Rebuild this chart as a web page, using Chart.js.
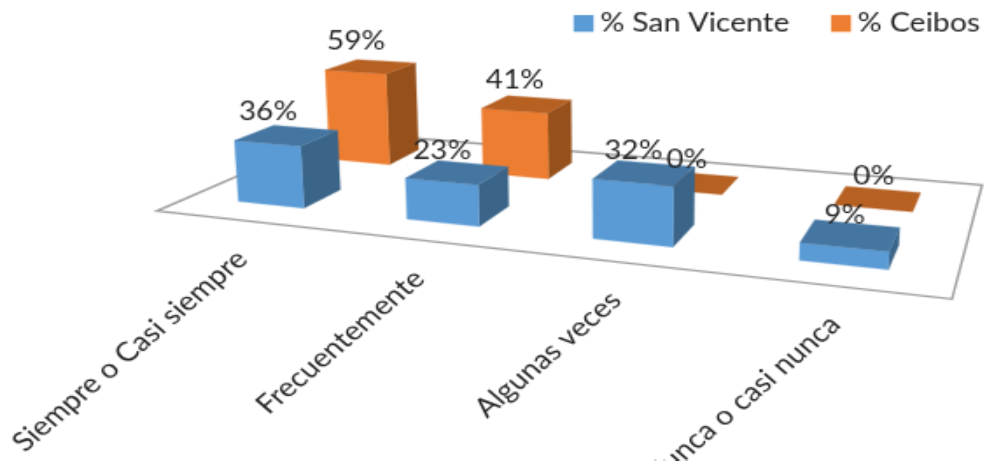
<!DOCTYPE html>
<html>
<head>
<meta charset="utf-8">
<script src="https://cdn.jsdelivr.net/npm/chart.js@4/dist/chart.umd.min.js"></script>
<style>
html,body{margin:0;padding:0;background:#fff;overflow:hidden;width:991px;height:461px}
#wrap{position:absolute;left:0;top:0;width:991px;height:461px;overflow:hidden}
canvas{position:absolute;left:0;top:0;transform-origin:0 0;transform:scale(1.75,1.5)}
</style>
</head>
<body>
<div id="wrap"><canvas id="c" width="566" height="307"></canvas></div>
<script>
const categories = ["Siempre o Casi siempre", "Frecuentemente", "Algunas veces", "Nunca o casi nunca"];
const sanVicente = [36, 23, 32, 9];
const ceibos = [59, 41, 0, 0];
const seriesNames = ["% San Vicente", "% Ceibos"];
const frontColors = ["#5B9BD5", "#ED7D31"];
const topColors = ["#4576A2", "#B66022"];
const sideColors = ["#3A6488", "#96501C"];

const RX = 1.75, RY = 1.5;            // canvas is magnified to the page by these factors
// floor of the 3-D box, page pixels: front-left, front-right, back-right, back-left
const floorQuad = [[157,211],[952,299],[982,185],[339.5,132]].map(p => [p[0]/RX, p[1]/RY]);
const depthCenters = [0.255, 0.76], depthHalf = 0.1;
const LEAN_X = 354, LEAN = 2.55e-4;

const homography = (() => {
  const [[x0,y0],[x1,y1],[x2,y2],[x3,y3]] = floorQuad;
  const dx1=x1-x2, dx2=x3-x2, sx=x0-x1+x2-x3, dy1=y1-y2, dy2=y3-y2, sy=y0-y1+y2-y3;
  const den=dx1*dy2-dx2*dy1;
  const g=(sx*dy2-dx2*sy)/den, h=(dx1*sy-sx*dy1)/den;
  return {a:x1-x0+g*x1,b:x3-x0+h*x3,c:x0,d:y1-y0+g*y1,e:y3-y0+h*y3,f:y0,g,h};
})();
function project(u,v){
  const m=homography, w=m.g*u+m.h*v+1;
  return {x:(m.a*u+m.b*v+m.c)/w, y:(m.d*u+m.e*v+m.f)/w, w};
}
function raise(p,dy){
  const h=dy/p.w;
  return {x:p.x+(p.x-LEAN_X)*h*LEAN, y:p.y-h};
}
function poly(ctx,pts,color){
  ctx.beginPath();
  pts.forEach((p,i)=> i?ctx.lineTo(p.x,p.y):ctx.moveTo(p.x,p.y));
  ctx.closePath();
  ctx.fillStyle=color; ctx.fill();
  ctx.strokeStyle=color; ctx.lineWidth=0.3; ctx.stroke();
}
let current = null;
// every bar element becomes a box standing on the projected floor
Chart.BarElement.prototype.draw = function(ctx){
  const area=current.chart.chartArea, ds=current.index;
  const u=(this.x-area.left)/area.width, hu=this.width/2/area.width;
  const v=depthCenters[ds], dy=this.base-this.y;
  const fl=project(u-hu,v-depthHalf), fr=project(u+hu,v-depthHalf),
        br=project(u+hu,v+depthHalf), bl=project(u-hu,v+depthHalf);
  const tfl=raise(fl,dy), tfr=raise(fr,dy), tbr=raise(br,dy), tbl=raise(bl,dy);
  ctx.save();
  if(dy>0){
    poly(ctx,[fr,br,tbr,tfr],sideColors[ds]);
    poly(ctx,[fl,fr,tfr,tfl],frontColors[ds]);
  }
  poly(ctx,[tfl,tfr,tbr,tbl],topColors[ds]);
  ctx.restore();
};

const scene3d = {
  id:'scene3d',
  afterLayout(chart){
    const lg=chart.legend;
    lg.top-=12; lg.bottom-=12; lg.left+=13; lg.right+=13;
    if(!lg._wrapped){
      lg._wrapped=true;
      const draw=lg.draw.bind(lg), ctx=chart.ctx, rect=ctx.rect;
      lg.draw=function(){   // legend swatches sit closer to their text than the library's gap
        ctx.rect=function(x,y,w,h){ rect.call(ctx,x+4.8,y,w,h); };
        draw();
        delete ctx.rect;
      };
    }
  },
  beforeDatasetsDraw(chart){
    const ctx=chart.ctx;
    ctx.save();
    ctx.beginPath();
    floorQuad.forEach((p,i)=> i?ctx.lineTo(p[0],p[1]):ctx.moveTo(p[0],p[1]));
    ctx.closePath();
    ctx.strokeStyle='#9C9C9C'; ctx.lineWidth=1.4; ctx.lineJoin='miter'; ctx.stroke();
    ctx.restore();
  },
  beforeDatasetDraw(chart,args){ current={chart,index:args.index}; },
  afterDatasetsDraw(chart){
    const ctx=chart.ctx, area=chart.chartArea, xs=chart.scales.x;
    ctx.save();
    ctx.fillStyle='#1E1E1E';
    // value labels
    ctx.font='17px Lato'; ctx.textAlign='center'; ctx.textBaseline='alphabetic';
    [1,0].forEach(ds=>{
      const meta=chart.getDatasetMeta(ds);
      meta.data.forEach((el,i)=>{
        const u=(el.x-area.left)/area.width;
        const v=depthCenters[ds]-depthHalf;
        const top=raise(project(u,v),el.base-el.y);
        ctx.fillText(chart.data.datasets[ds].data[i]+'%',top.x+0.4,top.y-15.3);
      });
    });
    // category labels along the front edge of the floor
    ctx.font='17.8px Lato'; ctx.textAlign='right'; ctx.textBaseline='middle';
    xs.ticks.forEach((t,i)=>{
      const u=(xs.getPixelForTick(i)-area.left)/area.width;
      const p=project(u,0);
      ctx.save();
      ctx.translate(p.x+1.6,p.y+23);
      ctx.rotate(-Math.PI/4);
      ctx.fillText(xs.getLabelForValue(t.value),0,0);
      ctx.restore();
    });
    ctx.restore();
  }
};

new Chart(document.getElementById('c'),{
  type:'bar',
  data:{labels:categories,datasets:[
    {label:seriesNames[0],data:sanVicente,backgroundColor:frontColors[0],clip:false},
    {label:seriesNames[1],data:ceibos,backgroundColor:frontColors[1],clip:false}
  ]},
  plugins:[scene3d],
  options:{
    responsive:false,animation:false,devicePixelRatio:1,
    layout:{padding:0},
    datasets:{bar:{grouped:false,barPercentage:0.4,categoryPercentage:1}},
    scales:{
      x:{display:false},
      y:{display:false,min:0,max:226}
    },
    plugins:{
      tooltip:{enabled:false},
      legend:{position:'top',align:'end',
        labels:{boxWidth:11.4,boxHeight:11.4,padding:19,color:'#1E1E1E',font:{family:'Lato',size:17.3}}}
    }
  }
});
</script>
</body>
</html>
